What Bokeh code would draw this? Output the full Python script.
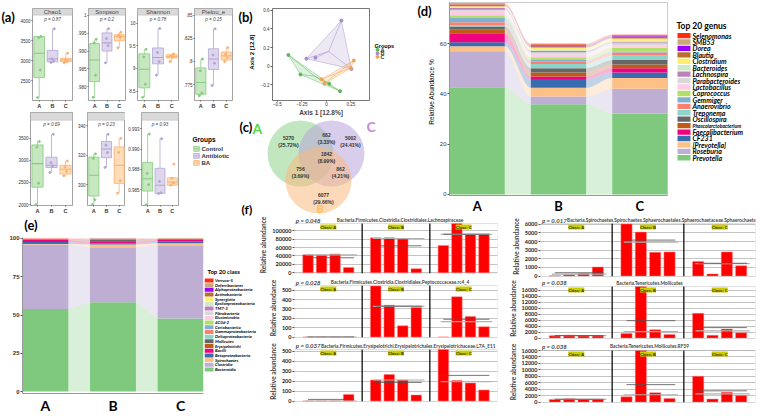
import numpy as np
from bokeh.plotting import figure
from bokeh.layouts import row, column
from bokeh.models import (Label, BoxAnnotation, FixedTicker, CustomJSTickFormatter, Range1d,
                          ColumnDataSource)
from bokeh.core.properties import value
from bokeh.embed import file_html
from bokeh.resources import INLINE

# ======================= DATA =======================
GROUPS = ["A", "B", "C"]
GROUP_NAMES = ["Control", "Antibiotic", "BA"]

# (a) alpha diversity: per group [lower whisker, Q1, median, Q3, upper whisker]
ALPHA_TITLES = ["Chao1", "Simpson", "Shannon", "Pielou_e", "", "", ""]
ALPHA_P = ["p = 0.87", "p = 0.2", "p = 0.78", "p = 0.15", "p = 0.69", "p = 0.23", "p = 0.93"]
CHAO1_BOX = [[2080, 2580, 3190, 3610, 3610], [2960, 2976, 3048, 3262, 3800], [2950, 2976, 3024, 3064, 3190]]
SIMPSON_BOX = [[0.9770, 0.9814, 0.9875, 0.9921, 0.9933], [0.9867, 0.9900, 0.9923, 0.9951, 0.9963],
               [0.9909, 0.9929, 0.9941, 0.9946, 0.9953]]
SHANNON_BOX = [[8.36, 8.57, 8.98, 9.32, 9.42], [8.85, 9.10, 9.24, 9.45, 9.88], [9.15, 9.23, 9.26, 9.30, 9.32]]
PIELOU_BOX = [[0.7630, 0.7646, 0.7774, 0.7931, 0.8027], [0.7741, 0.7914, 0.8027, 0.8137, 0.8352],
              [0.8000, 0.8016, 0.8061, 0.8102, 0.8150]]
OBS1_BOX = [[2000, 2393, 2926, 3350, 3426], [2726, 2838, 2889, 3073, 3593], [2652, 2689, 2800, 2889, 2985]]
OBS2_BOX = [[286.8, 292.5, 306.6, 318.9, 321.1], [311.9, 318.5, 324.4, 329.4, 334.3], [294.5, 301.1, 313.4, 325.8, 331.6]]
OBS3_BOX = [[0.98312, 0.98481, 0.98633, 0.98835, 0.99185], [0.98450, 0.98452, 0.98553, 0.98762, 0.99128],
            [0.98553, 0.98553, 0.98593, 0.98645, 0.98645]]
CHAO1_PTS = [[2080, 2770, 3580, 3610], [2960, 2990, 3050, 3800], [2950, 2980, 3020, 3190]]
SIMPSON_PTS = [[0.9770, 0.9832, 0.9923, 0.9933], [0.9867, 0.9915, 0.9935, 0.9963], [0.9909, 0.9938, 0.9944, 0.9953]]
SHANNON_PTS = [[8.36, 8.65, 9.25, 9.42], [8.85, 9.15, 9.35, 9.88], [9.15, 9.25, 9.28, 9.32]]
PIELOU_PTS = [[0.7630, 0.7660, 0.7900, 0.8027], [0.7741, 0.7980, 0.8070, 0.8352], [0.8000, 0.8040, 0.8080, 0.8150]]
OBS1_PTS = [[2000, 2480, 3300, 3426], [2726, 2870, 2950, 3593], [2652, 2750, 2850, 2985]]
OBS2_PTS = [[286.8, 290.0, 318.0, 321.1], [311.9, 322.0, 327.0, 334.3], [294.5, 303.0, 322.0, 331.6]]
OBS3_PTS = [[0.98312, 0.98560, 0.98700, 0.99185], [0.98450, 0.98460, 0.98600, 0.99128],
            [0.98553, 0.98580, 0.98640, 0.98814]]
ALPHA_TICKS = [[2500, 3000, 3500, 4000], [0.98, 0.985, 0.99, 0.995, 1.0], [8.5, 9, 9.5, 10],
               [0.775, 0.8, 0.825, 0.85], [2000, 2500, 3000, 3500], [300, 320, 340],
               [0.985, 0.9875, 0.99, 0.9925]]

# (b) PCoA
PCOA_A_X = [-0.388, -0.265, 0.03, 0.14]
PCOA_A_Y = [0.12, -0.09, -0.19, -0.27]
PCOA_B_X = [0.153, -0.204, -0.112, 0.255]
PCOA_B_Y = [0.49, 0.08, 0.09, -0.03]
PCOA_C_X = [-0.05, -0.02, 0.28, 0.25]
PCOA_C_Y = [-0.14, -0.19, 0.06, -0.02]
PCOA_XTICKS = [-0.5, -0.25, 0.0, 0.25]
PCOA_YTICKS = [-0.2, 0.0, 0.2, 0.4, 0.6]

# (c) Venn: A only, C only, B only, A&C, A&B, B&C, A&B&C
VENN_COUNTS = [5270, 5002, 6077, 682, 756, 862, 1842]

# (d) top 20 genus (bottom -> top of stack)
GENUS = ["Prevotella", "Roseburia", "[Prevotella]", "CF231", "Faecalibacterium", "Phascolarctobacterium",
         "Oscillospira", "Treponema", "Anaerovibrio", "Gemmiger", "Coprococcus", "Lactobacillus",
         "Parabacteroides", "Lachnospira", "Bacteroides", "Clostridium", "Blautia", "Dorea", "SMB53", "Selenomonas"]
GENUS_A = [42.6, 14.3, 2.0, 1.6, 3.6, 1.4, 1.3, 0.4, 1.3, 1.6, 1.1, 1.4, 0.8, 0.7, 0.3, 0.4, 0.3, 0.3, 0.2, 0.3]
GENUS_B = [35.9, 3.0, 3.5, 3.5, 1.0, 1.6, 1.7, 1.7, 1.1, 0.4, 1.1, 1.1, 0.9, 0.6, 0.5, 0.8, 0.5, 0.4, 0.3, 0.3]
GENUS_C = [32.2, 9.8, 4.3, 2.2, 1.7, 1.5, 1.7, 1.8, 1.2, 0.3, 1.6, 0.9, 0.9, 0.4, 0.6, 0.9, 0.4, 0.5, 0.3, 0.3]
GENUS_TICKS = [0, 20, 40, 60]

# (e) top 20 class (bottom -> top of stack)
CLASSES = ["Bacteroidia", "Clostridia", "Spirochaetes", "Betaproteobacteria", "Bacilli", "Erysipelotrichi",
           "Mollicutes", "Deltaproteobacteria", "Gammaproteobacteria", "Coriobacteriia", "4C0d-2",
           "Elusimicrobia", "Fibrobacteria", "TM7-3", "Epsilonproteobacteria", "Synergistia",
           "Actinobacteria", "Alphaproteobacteria", "Deferribacteres", "Verruco-5"]
CLASS_A = [53.9, 42.1, 0.4, 1.3, 1.4, 0.3, 0.2, 0.1, 0.05, 0.05, 0.02, 0.05, 0.02, 0.03, 0.02, 0.02, 0.02, 0.02, 0.02, 0.03]
CLASS_B = [58.4, 35.8, 1.9, 0.6, 1.0, 0.6, 1.2, 0.15, 0.05, 0.03, 0.05, 0.1, 0.02, 0.03, 0.02, 0.02, 0.02, 0.01, 0.02, 0.03]
CLASS_C = [47.7, 47.9, 1.2, 1.0, 1.2, 0.5, 0.2, 0.1, 0.03, 0.03, 0.02, 0.05, 0.01, 0.02, 0.01, 0.01, 0.01, 0.01, 0.01, 0.03]
CLASS_TICKS = [0, 25, 50, 75, 100]

# (f) per-sample abundances (4 samples in each class A, B, C)
F_TAXA = ["Bacteria.Firmicutes.Clostridia.Clostridiales.Lachnospiraceae",
          "Bacteria.Firmicutes.Clostridia.Clostridiales.Peptococcaceae.rc4_4",
          "Bacteria.Firmicutes.Erysipelotrichi.Erysipelotrichales.Erysipelotrichaceae.L7A_E11",
          "Bacteria.Spirochaetes.Spirochaetes.Sphaerochaetales.Sphaerochaetaceae.Sphaerochaeta",
          "Bacteria.Tenericutes.Mollicutes",
          "Bacteria.Tenericutes.Mollicutes.RF39"]
F_P = ["p = 0.048", "p = 0.028", "p = 0.037", "p = 0.017", "p = 0.038", "p = 0.038"]
F_VALUES = [[43000, 42000, 45000, 13000, 83000, 83500, 80000, 10000, 65000, 120000, 91000, 91000],
            [0, 0, 0, 0, 545, 340, 120, 315, 0, 430, 220, 110],
            [0, 0, 0, 65, 210, 265, 210, 60, 530, 205, 180, 110],
            [50, 150, 300, 1050, 6050, 5100, 2750, 2800, 1700, 250, 2800, 1200],
            [800, 1000, 800, 800, 1500, 17800, 2800, 1200, 8300, 900, 3000, 1800],
            [800, 1000, 800, 800, 1600, 16000, 2900, 1100, 8000, 900, 3000, 2000]]
F_TICKS = [[0, 20000, 40000, 60000, 80000, 100000], [0, 100, 200, 300, 400, 500], [0, 100, 200, 300, 400, 500],
           [0, 1000, 2000, 3000, 4000, 5000, 6000], list(range(0, 16001, 2000)), list(range(0, 16001, 2000))]

# ======================= STYLE / LAYOUT =======================
FONT = "Liberation Sans"
CAL = "Lato"

GLINE = ["#86cc7e", "#b3a4d4", "#fdb170"]
GFILL = ["#c6e7c0", "#ddd6ec", "#fddcb9"]
PCOL = ["#5cb85c", "#a08cc8", "#f5a04a"]
PALETTE = ["#7fc97f", "#beaed4", "#fdc086", "#386cb0", "#f0027f", "#bf5b17", "#666666", "#8dd3c7",
           "#fb8072", "#80b1d3", "#b3de69", "#fccde5", "#d9d9d9", "#bc80bd", "#ccebc5", "#ffed6f",
           "#b8702e", "#9a00ff", "#c9a97c", "#ff2d0d"]


def mkfig(box, frame, xr, yr, xaxis="below", yaxis="left"):
    x0, y0, x1, y1 = box
    fx0, fy0, fx1, fy1 = frame
    p = figure(width=x1 - x0, height=y1 - y0, x_range=xr, y_range=yr,
               output_backend="svg", toolbar_location=None,
               x_axis_location=xaxis, y_axis_location=yaxis,
               min_border_left=fx0 - x0, min_border_right=x1 - fx1,
               min_border_top=fy0 - y0, min_border_bottom=y1 - fy1)
    p.outline_line_color = None
    for g in p.grid:
        g.visible = False
    p.background_fill_color = "white"
    p.border_fill_color = "white"
    return p


def canvas(box):
    """figure whose frame is the whole box; data coords = page pixel coords (y downward)"""
    x0, y0, x1, y1 = box
    return mkfig(box, box, Range1d(x0, x1), Range1d(y1, y0), None, None)


def ctext(p, xs, ys, texts, size, font=CAL, style="bold", color="black", align="left", baseline="top", angle=0):
    p.text(x=xs, y=ys, text=texts, text_font=value(font), text_font_size=value(f"{size}px"),
           text_font_style=style, text_color=color, text_align=align, text_baseline=baseline, angle=angle)


def style_axis(ax, size, bold=False, font=FONT, standoff=1, tick_out=2, color="#333333"):
    ax.major_label_text_font_size = f"{size}px"
    ax.major_label_text_font = font
    ax.major_label_text_font_style = "bold" if bold else "normal"
    ax.major_label_text_color = color
    ax.major_label_standoff = standoff
    ax.major_tick_out = tick_out
    ax.major_tick_in = 0
    ax.minor_tick_out = 0
    ax.minor_tick_in = 0
    ax.major_tick_line_color = "#555555"
    ax.axis_line_color = None


# ---------------- (a) alpha-diversity boxplots ----------------
ALPHA_BOXES = [CHAO1_BOX, SIMPSON_BOX, SHANNON_BOX, PIELOU_BOX, OBS1_BOX, OBS2_BOX, OBS3_BOX]
ALPHA_PTS = [CHAO1_PTS, SIMPSON_PTS, SHANNON_PTS, PIELOU_PTS, OBS1_PTS, OBS2_PTS, OBS3_PTS]
ALPHA_LIM = [(2007, 4143), (0.9761, 1.0001), (8.291, 10.174), (0.7579, 0.8500),
             (1978, 3907), (286.1, 343.8), (0.98303, 0.99354)]
ALPHA_FMT = {
    "int": "return tick.toFixed(0);",
    "simpson": "return tick > 0.9999 ? '1' : tick.toFixed(3).replace(/^0/, '');",
    "shannon": "return String(Math.round(tick * 10) / 10);",
    "pielou": "return tick.toFixed(3).replace(/0+$/, '').replace(/^0/, '');",
    "fix3": "return tick.toFixed(3);",
}
ALPHA_FMT_KEY = ["int", "simpson", "shannon", "pielou", "int", "int", "fix3"]
A_LAYOUT = [((17, 0, 74, 111), (30, 8, 72, 105)), ((74, 0, 126, 111), (83, 8, 125, 105)),
            ((126, 0, 180, 111), (134, 8, 178, 105)), ((180, 0, 237, 111), (188, 8, 232, 105)),
            ((0, 111, 74, 216), (30, 112, 72, 207)), ((74, 111, 125, 216), (82, 112, 125, 207)),
            ((125, 111, 180, 216), (137, 112, 178, 207))]
JIT = [-0.12, 0.08, -0.04, 0.13]

a_figs = []
for i in range(7):
    box, frame = A_LAYOUT[i]
    lo, hi = ALPHA_LIM[i]
    hdr, area = (7, 90) if i < 4 else (8, 87)
    end = hi + (hi - lo) * hdr / area
    p = mkfig(box, frame, Range1d(-0.5, 2.5), Range1d(lo, end))
    p.outline_line_color = "#8c8c8c"
    p.outline_line_width = 0.8
    p.add_layout(BoxAnnotation(bottom=hi, fill_color="#d9d9d9", fill_alpha=1, line_color="#8c8c8c",
                               line_width=0.8))
    for g in range(3):
        lw, q1, md, q3, uw = ALPHA_BOXES[i][g]
        p.segment(x0=[g, g], y0=[lw, q3], x1=[g, g], y1=[q1, uw], line_color=GLINE[g], line_width=0.8)
        p.vbar(x=[g], bottom=[q1], top=[q3], width=0.8, fill_color=GFILL[g], line_color=GLINE[g], line_width=0.8)
        p.segment(x0=[g - 0.4], x1=[g + 0.4], y0=[md], y1=[md], line_color=GLINE[g], line_width=1.1)
        p.scatter(x=[g + j for j in JIT], y=ALPHA_PTS[i][g], size=2, color=GLINE[g])
    p.add_layout(Label(x=1, y=(hi + end) / 2, text=ALPHA_TITLES[i], text_align="center",
                       text_baseline="middle", text_font_size="6px", text_font=FONT))
    p.add_layout(Label(x=1, y=hi - (hi - lo) * 0.025, text=ALPHA_P[i], text_align="center",
                       text_baseline="top", text_font_size="4.6px", text_font=FONT, text_font_style="italic"))
    p.xaxis.ticker = FixedTicker(ticks=[0, 1, 2])
    p.xaxis.major_label_overrides = {0: "A", 1: "B", 2: "C"}
    style_axis(p.xaxis, 5.5, bold=True, standoff=1, tick_out=1)
    p.yaxis.ticker = FixedTicker(ticks=ALPHA_TICKS[i])
    p.yaxis.formatter = CustomJSTickFormatter(code=ALPHA_FMT[ALPHA_FMT_KEY[i]])
    style_axis(p.yaxis, 4.5, standoff=1, tick_out=1)
    a_figs.append(p)

letter_a = canvas((0, 0, 17, 111))
ctext(letter_a, [1], [1], ["(a)"], 13)

leg_a = canvas((180, 111, 237, 216))
ctext(leg_a, [192], [138], ["Groups"], 6.5, font=FONT)
ly = [152, 160, 168]
leg_a.rect(x=[196] * 3, y=ly, width=5.5, height=5.5, fill_color=GFILL, line_color=GLINE, line_width=0.8)
leg_a.segment(x0=[193.2] * 3, x1=[198.8] * 3, y0=ly, y1=ly, line_color=GLINE, line_width=0.8)
ctext(leg_a, [201] * 3, ly, GROUP_NAMES, 6, font=FONT, baseline="middle", color="#333333")

# ---------------- (b) PCoA ----------------
pb = mkfig((256, 0, 372, 118), (272, 8, 369, 105), Range1d(-0.55, 0.44), Range1d(-0.37, 0.62))
pb.outline_line_color = "#555555"
pb.outline_line_width = 0.8


def hull(xs, ys):
    pts = sorted(zip(xs, ys))
    def cross(o, a, b):
        return (a[0] - o[0]) * (b[1] - o[1]) - (a[1] - o[1]) * (b[0] - o[0])
    lower, upper = [], []
    for q in pts:
        while len(lower) >= 2 and cross(lower[-2], lower[-1], q) <= 0:
            lower.pop()
        lower.append(q)
    for q in reversed(pts):
        while len(upper) >= 2 and cross(upper[-2], upper[-1], q) <= 0:
            upper.pop()
        upper.append(q)
    h = lower[:-1] + upper[:-1]
    return [q[0] for q in h], [q[1] for q in h]


for g, (xs, ys) in enumerate([(PCOA_A_X, PCOA_A_Y), (PCOA_B_X, PCOA_B_Y), (PCOA_C_X, PCOA_C_Y)]):
    hx, hy = hull(xs, ys)
    pb.patch(hx, hy, fill_color=PCOL[g], fill_alpha=0.2, line_color=PCOL[g], line_alpha=0.6, line_width=0.7)
    cx, cy = float(np.mean(xs)), float(np.mean(ys))
    pb.segment(x0=[cx] * len(xs), y0=[cy] * len(ys), x1=xs, y1=ys, line_color=PCOL[g], line_width=0.6,
               line_alpha=0.8)
    pb.scatter(xs, ys, size=3, color=PCOL[g])
pb.xaxis.ticker = FixedTicker(ticks=PCOA_XTICKS)
pb.yaxis.ticker = FixedTicker(ticks=PCOA_YTICKS)
style_axis(pb.xaxis, 4.5, standoff=0, tick_out=1)
style_axis(pb.yaxis, 4.5, standoff=1, tick_out=2)
pb.xaxis.axis_label = "Axis 1 [12.8%]"
pb.xaxis.axis_label_text_font_size = "6.5px"
pb.xaxis.axis_label_text_font_style = "bold"
pb.xaxis.axis_label_text_font = FONT
pb.xaxis.axis_label_standoff = 0

letter_b = canvas((237, 0, 256, 118))
ctext(letter_b, [238], [1], ["(b)"], 13)
ctext(letter_b, [251.5], [56], ["Axis 2 [12.8]"], 6, font=FONT, align="center", baseline="middle",
      angle=np.pi / 2)

leg_b = canvas((372, 0, 405, 118))
ctext(leg_b, [374], [44], ["Groups"], 5.5, font=FONT)
lyb = [53, 57.5, 62]
leg_b.scatter(x=[377] * 3, y=lyb, size=3, color=PCOL)
ctext(leg_b, [380] * 3, lyb, GROUPS, 5.5, font=FONT, baseline="middle", color="#333333")

# ---------------- (c) Venn ----------------
pc = canvas((237, 118, 405, 216))
VENN_CENTERS = [(300, 153), (331, 153), (318, 180)]
VENN_COLS = ["#8fd18a", "#b8a6dc", "#f7b980"]
for (cx, cy), col in zip(VENN_CENTERS, VENN_COLS):
    pc.circle(x=[cx], y=[cy], radius=33, fill_color=col, fill_alpha=0.55, line_color=None)
total = sum(VENN_COUNTS)
venn_txt = [f"{c}\n({100 * c / total:.2f}%)" for c in VENN_COUNTS]
VENN_POS = [(288, 141), (350, 141), (323, 198), (326, 138), (300, 172), (340, 172), (326, 157)]
pc.text(x=[q[0] for q in VENN_POS], y=[q[1] for q in VENN_POS], text=venn_txt, text_align="center",
        text_baseline="middle", text_font=value(FONT), text_font_size=value("5px"), text_font_style="bold",
        text_color="#333333", text_line_height=1.15)
ctext(pc, [252], [119], ["A"], 14, color="#55d545")
ctext(pc, [366], [117], ["C"], 14, color="#c58ad8")
ctext(pc, [316], [201], ["B"], 11, color="#ffc255")
ctext(pc, [239], [118], ["(c)"], 13)
ctext(pc, [241], [201], ["(f)"], 12)


# ---------------- stacked helper ----------------
def stacked(p, V, colors, width, curve):
    V = np.array(V, dtype=float)
    tops = np.cumsum(V, axis=1)
    bots = tops - V
    n = V.shape[1]
    t = np.linspace(0, 1, 25)
    s = 3 * t ** 2 - 2 * t ** 3 if curve else t
    for g in range(V.shape[0] - 1):
        xl, xr = g + width / 2, g + 1 - width / 2
        xx = xl + t * (xr - xl)
        pxs, pys = [], []
        for j in range(n):
            b = bots[g, j] + (bots[g + 1, j] - bots[g, j]) * s
            tt = tops[g, j] + (tops[g + 1, j] - tops[g, j]) * s
            pxs.append(list(xx) + list(xx[::-1]))
            pys.append(list(b) + list(tt[::-1]))
        p.patches(pxs, pys, fill_color=colors, fill_alpha=0.3, line_color=None)
    for g in range(V.shape[0]):
        p.quad(left=g - width / 2, right=g + width / 2, bottom=list(bots[g]), top=list(tops[g]),
               fill_color=colors, line_color=None)


# ---------------- (d) genus ----------------
letter_d = canvas((405, 0, 436, 216))
ctext(letter_d, [417], [1], ["(d)"], 13)
ctext(letter_d, [430.5], [100], ["Relative Abundance %"], 6.5, font=FONT, style="normal", align="center",
      baseline="middle", angle=np.pi / 2)

pd_ = mkfig((436, 0, 672, 216), (447, 2, 667, 198), Range1d(-0.34, 2.34), Range1d(-0.4, 76.3))
pd_.outline_line_color = "#cccccc"
stacked(pd_, [GENUS_A, GENUS_B, GENUS_C], PALETTE, 0.68, True)
pd_.xaxis.ticker = FixedTicker(ticks=[0, 1, 2])
pd_.xaxis.major_label_overrides = {0: "A", 1: "B", 2: "C"}
style_axis(pd_.xaxis, 13, bold=True, font=CAL, standoff=2, tick_out=0, color="black")
pd_.yaxis.ticker = FixedTicker(ticks=GENUS_TICKS)
style_axis(pd_.yaxis, 6, standoff=1, tick_out=2)
pd_.xaxis.axis_line_color = "#999999"
pd_.yaxis.axis_line_color = "#999999"

pdl = canvas((672, 0, 760, 216))
ys = [37 + i * 7.2 for i in range(20)]
pdl.rect(x=683.5, y=ys, width=13, height=6, fill_color=PALETTE[::-1], line_color=None)
gsrc = ColumnDataSource(dict(x=[692] * 20, y=ys, t=GENUS[::-1],
                             fs=["5px" if len(g) > 18 else "7px" for g in GENUS[::-1]]))
pdl.text(x="x", y="y", text="t", source=gsrc, text_font=value(CAL), text_font_size="fs",
         text_font_style="bold italic", text_baseline="middle")
ctext(pdl, [676], [21], ["Top 20 genus"], 8.5)

# ---------------- (e) class ----------------
letter_e = canvas((0, 216, 204, 234))
ctext(letter_e, [2], [216], ["(e)"], 13)

pe = mkfig((0, 234, 204, 416), (22, 237, 203, 400), Range1d(-0.34, 2.34), Range1d(-1.25, 100.6))
stacked(pe, [CLASS_A, CLASS_B, CLASS_C], PALETTE, 0.68, False)
pe.xaxis.ticker = FixedTicker(ticks=[0, 1, 2])
pe.xaxis.major_label_overrides = {0: "A", 1: "B", 2: "C"}
style_axis(pe.xaxis, 14, bold=True, font=CAL, standoff=3, tick_out=0, color="black")
pe.yaxis.ticker = FixedTicker(ticks=CLASS_TICKS)
style_axis(pe.yaxis, 6, bold=True, standoff=1, tick_out=2)
pe.xaxis.axis_line_color = "#999999"
pe.yaxis.axis_line_color = "#999999"

pel = canvas((204, 216, 257, 416))
ys = [280 + i * 4.68 for i in range(20)]
pel.rect(x=208.5, y=ys, width=9, height=4, fill_color=PALETTE[::-1], line_color=None)
ctext(pel, [214.5] * 20, ys, CLASSES[::-1], 4.3, style="bold italic", baseline="middle")
ctext(pel, [207], [267], ["Top 20 class"], 6)

# ---------------- (f) bar panels ----------------
F_LAYOUT = [((257, 216, 505, 278), (289, 223, 497, 273)), ((257, 278, 505, 341), (289, 285, 497, 337)),
            ((257, 341, 505, 416), (289, 349, 497, 401)), ((505, 216, 760, 278), (540, 223, 755, 276)),
            ((505, 278, 760, 341), (540, 286, 755, 338)), ((505, 341, 760, 416), (540, 350, 755, 402))]
F_YLIM = [(-1500, 117000), (-5, 550), (-5, 515), (-50, 6100), (-150, 17300), (-150, 16000)]
# taxon text anchor (data x, alignment)
F_TAXON_POS = [(7.8, "center"), (7.8, "center"), (1.95, "left"), (1.85, "left"), (7.6, "center"), (7.6, "center")]
f_figs = []
for k in range(6):
    box, frame = F_LAYOUT[k]
    x0, y0, x1, y1 = box
    fx0, fy0, fx1, fy1 = frame
    lo, hi = F_YLIM[k]
    hi_ext = hi + (hi - lo) * (fy0 - y0) / (fy1 - fy0)
    p = mkfig(box, (fx0, y0, fx1, fy1), Range1d(0, 15), Range1d(lo, hi_ext), xaxis=None)
    p.add_layout(BoxAnnotation(top=hi, fill_alpha=0, line_color="#999999", line_width=1))
    t = FixedTicker(ticks=F_TICKS[k])
    p.yaxis.ticker = t
    p.yaxis.formatter = CustomJSTickFormatter(code="return tick.toFixed(0);")
    p.ygrid.ticker = t
    p.ygrid.visible = True
    p.ygrid.grid_line_color = "#c4c4c4"
    p.ygrid.grid_line_width = 1
    style_axis(p.yaxis, 5.5, bold=True, font=CAL, standoff=1, tick_out=2, color="#222222")
    p.yaxis.axis_label = "Relative abundance"
    p.yaxis.axis_label_text_font_size = "6.5px"
    p.yaxis.axis_label_text_font_style = "bold"
    p.yaxis.axis_label_text_font = CAL
    p.yaxis.axis_label_standoff = 2
    vals = F_VALUES[k]
    xs = [5 * c + i + 1 for c in range(3) for i in range(4)]
    p.vbar(x=xs, top=[min(v, hi) for v in vals], bottom=0, width=0.78, fill_color="#ff0000",
           line_color="#ff8080", line_width=0.5)
    for c in range(3):
        v = vals[4 * c:4 * c + 4]
        mn, md = float(np.mean(v)), float(np.median(v))
        p.segment(x0=[5 * c + 0.8], x1=[5 * c + 4.6], y0=[md], y1=[md], line_color="#b0b0b0", line_width=1.2)
        p.segment(x0=[5 * c + 1.0], x1=[5 * c + 4.4], y0=[mn], y1=[mn], line_color="#505050", line_width=0.8)
        p.add_layout(Label(x=5 * c + 2.5, y=hi - (hi - lo) * 0.02, text=f"Class: {GROUPS[c]}",
                           text_align="center", text_baseline="top", text_font_size="4px", text_font=FONT,
                           text_font_style="bold", text_color="#333300", background_fill_color="#cccc00"))
    p.segment(x0=[5, 10], x1=[5, 10], y0=[lo, lo], y1=[hi, hi], line_color="#111111", line_width=1.3)
    ty = (hi + hi_ext) / 2
    p.add_layout(Label(x=0.1, y=ty, text=F_P[k], text_align="left", text_baseline="middle",
                       text_font_size="6px", text_font=CAL, text_font_style="bold italic"))
    tx, ta = F_TAXON_POS[k]
    p.add_layout(Label(x=tx, y=ty, text=F_TAXA[k], text_align=ta, text_baseline="middle",
                       text_font_size="4.8px", text_font=CAL, text_font_style="bold"))
    f_figs.append(p)

# ---------------- assemble ----------------
col_a = column(row(letter_a, *a_figs[:4]), row(*a_figs[4:], leg_a))
col_bc = column(row(letter_b, pb, leg_b), pc)
top = row(col_a, col_bc, letter_d, pd_, pdl)
bottom = row(column(letter_e, pe), pel, column(*f_figs[:3]), column(*f_figs[3:]))
root = column(top, bottom)

open("out.html", "w").write(file_html(root, INLINE))
